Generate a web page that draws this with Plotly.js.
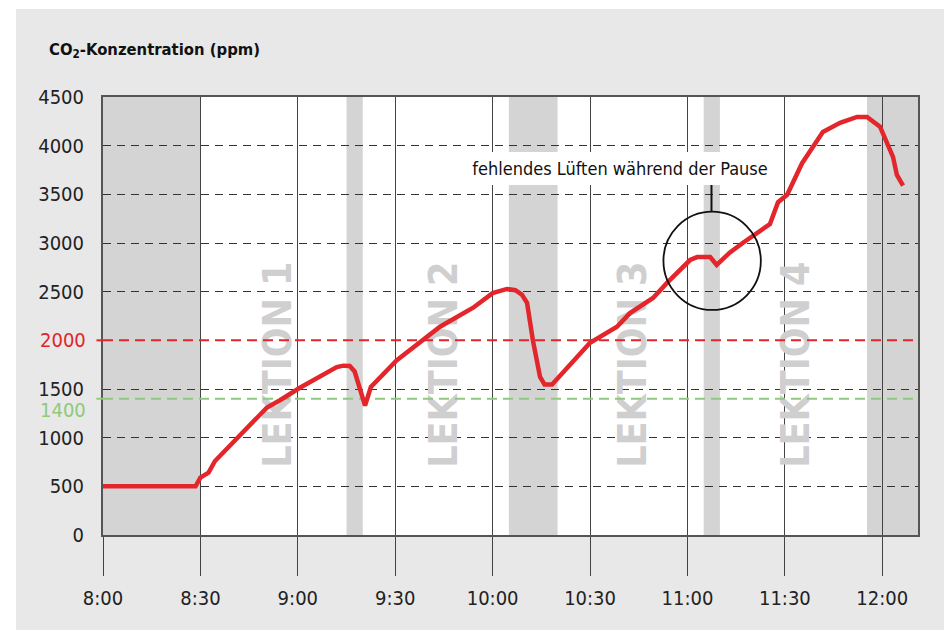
<!DOCTYPE html>
<html>
<head>
<meta charset="utf-8">
<script src="https://cdn.plot.ly/plotly-3.0.1.min.js"></script>
<style>
html,body{margin:0;padding:0;background:#fff}
#chart{width:944px;height:630px}
#chart svg text{font-stretch:condensed !important;}
</style>
</head>
<body>
<div id="chart"></div>
<script>
// ---- data (minutes after 8:00, ppm) ----
const minutes = [0, 28.5, 30, 32.5, 34.5, 40, 44.5, 50.5, 54.5, 60.5, 72, 74, 76, 77.5, 80.7, 82.5, 90.5, 97.5, 103.8, 114, 120, 124.4, 127, 129, 130.6, 132.4, 134.6, 136, 138.3, 150, 158.3, 162.3, 169.4, 173.7, 180.8, 183, 187, 189, 193, 197, 205.4, 207.9, 210.7, 215.3, 218.7, 221.7, 227, 232.2, 235.3, 239.3, 243.3, 244.5, 246.4];
const co2 = [500, 500, 590, 640, 760, 945, 1110, 1310, 1385, 1510, 1725, 1740, 1737, 1680, 1330, 1520, 1795, 1975, 2140, 2335, 2485, 2528, 2515, 2470, 2385, 2000, 1625, 1545, 1545, 1975, 2140, 2280, 2435, 2590, 2825, 2855, 2855, 2775, 2900, 3000, 3195, 3420, 3495, 3820, 3990, 4140, 4235, 4295, 4295, 4195, 3885, 3700, 3590];

const tickMinutes = [0, 30, 60, 90, 120, 150, 180, 210, 240];
const tickLabels = ['8:00', '8:30', '9:00', '9:30', '10:00', '10:30', '11:00', '11:30', '12:00'];
const yTicks = [0, 500, 1000, 1500, 2500, 3000, 3500, 4000, 4500];

const pauses = [[0, 30], [75, 80], [125, 140], [185, 190], [235.3, 251]];
const lessons = [
  {name: 'LEKTION 1', at: 52.7},
  {name: 'LEKTION 2', at: 103.8},
  {name: 'LEKTION 3', at: 162.3},
  {name: 'LEKTION 4', at: 212.2}
];
const limitRed = 2000;
const limitGreen = 1400;
const noteText = 'fehlendes Lüften während der Pause';
const xMax = 251, yMax = 4500;

const FONT = '"DejaVu Sans Condensed", "DejaVu Sans", sans-serif';
const RED = '#e0262a', GREEN = '#8fc97a';

const shapes = [];
// pause bands
pauses.forEach(p => shapes.push({type: 'rect', xref: 'x', yref: 'y', x0: p[0], x1: p[1], y0: 0, y1: yMax,
  fillcolor: '#d4d4d4', line: {width: 0}, layer: 'below'}));
// lesson labels (between grid and trace)
lessons.forEach(l => shapes.push({type: 'rect', xref: 'x', yref: 'y', x0: l.at - 6, x1: l.at + 6, y0: 500, y1: 3000,
  fillcolor: 'rgba(0,0,0,0)', line: {width: 0}, layer: 'between',
  label: {text: l.name, textangle: -90, textposition: 'middle center',
    font: {family: FONT, size: 39, color: '#cfcfcf', weight: 'bold'}}}));
// limit lines
shapes.push({type: 'line', xref: 'x', yref: 'y', x0: 0, x1: xMax, y0: limitRed, y1: limitRed,
  line: {color: RED, width: 2, dash: '10px,6px'}, layer: 'between'});
shapes.push({type: 'line', xref: 'x', yref: 'y', x0: 0, x1: xMax, y0: limitGreen, y1: limitGreen,
  line: {color: GREEN, width: 2, dash: '10px,6px'}, layer: 'between'});
// stubs left of axis
shapes.push({type: 'line', xref: 'paper', yref: 'paper', x0: -0.008, x1: 0, y0: limitRed / yMax, y1: limitRed / yMax,
  line: {color: RED, width: 2}, layer: 'above'});
shapes.push({type: 'line', xref: 'paper', yref: 'paper', x0: -0.008, x1: 0, y0: limitGreen / yMax, y1: limitGreen / yMax,
  line: {color: GREEN, width: 2}, layer: 'above'});
// callout circle + connector
shapes.push({type: 'circle', xref: 'x', yref: 'y', x0: 172.6, x1: 202.6, y0: 2312, y1: 3322,
  line: {color: '#111', width: 1.8}, layer: 'above'});
shapes.push({type: 'line', xref: 'x', yref: 'y', x0: 187.4, x1: 187.4, y0: 3322, y1: 3620,
  line: {color: '#111', width: 2}, layer: 'above'});
// white page margins
shapes.push({type: 'rect', xref: 'paper', yref: 'paper', x0: -0.13, x1: -0.1068, y0: -0.25, y1: 1.23,
  fillcolor: '#ffffff', line: {width: 0}, layer: 'above'});
shapes.push({type: 'rect', xref: 'paper', yref: 'paper', x0: -0.13, x1: 1.05, y0: 1.2009, y1: 1.23,
  fillcolor: '#ffffff', line: {width: 0}, layer: 'above'});

const annotations = [
  {xref: 'paper', yref: 'paper', x: -0.0687, y: 1.107, xanchor: 'left', yanchor: 'middle', showarrow: false,
    text: '<b>CO<sub>2</sub>-Konzentration (ppm)</b>', font: {family: FONT, size: 16.5, color: '#111'}},
  {xref: 'paper', yref: 'y', x: -0.0185, y: limitRed, xanchor: 'right', yanchor: 'middle', showarrow: false,
    text: String(limitRed), font: {family: FONT, size: 20, color: RED}},
  {xref: 'paper', yref: 'y', x: -0.0185, y: limitGreen, yshift: -11, xanchor: 'right', yanchor: 'middle', showarrow: false,
    text: String(limitGreen), font: {family: FONT, size: 20, color: GREEN}},
  {xref: 'x', yref: 'y', x: 159.2, y: 3765, xanchor: 'center', yanchor: 'middle', showarrow: false,
    text: noteText, font: {family: FONT, size: 18, color: '#111'}, bgcolor: '#ffffff',
    width: 302, height: 33, borderpad: 0, borderwidth: 0}
];

const trace = {x: minutes, y: co2, type: 'scatter', mode: 'lines',
  line: {color: '#e3262b', width: 4.5}, hoverinfo: 'skip'};

const layout = {
  width: 944, height: 630,
  margin: {l: 103, r: 26, t: 97, b: 95},
  paper_bgcolor: '#e8e8e8', plot_bgcolor: '#ffffff',
  showlegend: false,
  xaxis: {range: [0, xMax], tickvals: tickMinutes, ticktext: tickLabels, ticks: 'outside', ticklen: 39,
    tickcolor: '#444', tickwidth: 1, showgrid: true, gridcolor: '#444', gridwidth: 1,
    showline: true, mirror: true, linecolor: '#555', linewidth: 2, zeroline: false,
    ticklabelstandoff: 5, tickfont: {family: FONT, size: 20, color: '#222'}, fixedrange: true},
  yaxis: {range: [0, yMax], tickvals: yTicks, ticks: 'outside', ticklen: 13, tickcolor: 'rgba(0,0,0,0)',
    showgrid: true, griddash: '8px,6px',
    gridcolor: '#333', gridwidth: 1, showline: true, mirror: true, linecolor: '#555', linewidth: 2,
    zeroline: false, tickfont: {family: FONT, size: 20, color: '#222'}, fixedrange: true},
  shapes: shapes,
  annotations: annotations
};

Plotly.newPlot('chart', [trace], layout, {staticPlot: true, displayModeBar: false});
</script>
</body>
</html>
